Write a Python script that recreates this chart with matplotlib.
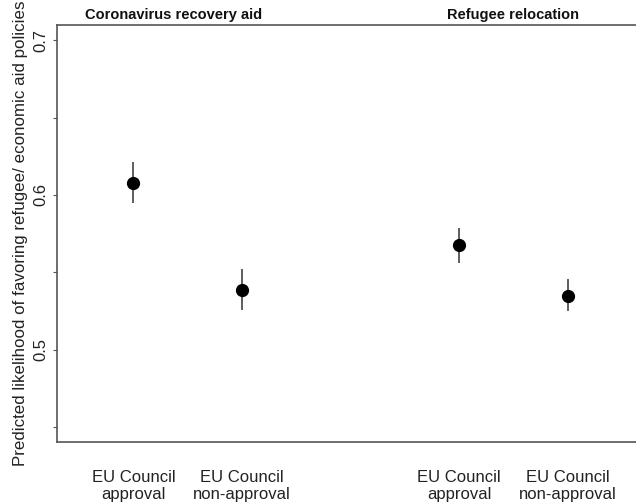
import numpy as np
import matplotlib.pyplot as plt

plt.rcParams['font.family'] = ['Liberation Sans', 'DejaVu Sans']

groups = ["Coronavirus recovery aid", "Refugee relocation"]
labels = ["EU Council\napproval", "EU Council\nnon-approval",
          "EU Council\napproval", "EU Council\nnon-approval"]
xpos = np.array([1, 2, 4, 5])
est = np.array([0.608, 0.539, 0.568, 0.535])
lower = np.array([0.595, 0.526, 0.556, 0.525])
upper = np.array([0.621, 0.552, 0.579, 0.546])

fig = plt.figure(figsize=(6.36, 5.04), dpi=100)
ax = fig.add_axes([57 / 636, 1 - 442 / 504, 1 - 57 / 636, (442 - 25) / 504])

ax.vlines(xpos, lower, upper, color="#333333", lw=1.1)
ax.plot(xpos, est, "o", color="black", ms=8.5)

ax.set_xlim(0.296, 5.63)
ax.set_ylim(0.4406, 0.7097)

ax.set_yticks([0.45, 0.5, 0.55, 0.6, 0.65, 0.7])
ax.set_yticklabels(["", "0.5", "", "0.6", "", "0.7"], rotation=90, va="center",
                   fontsize=12, color="#222222")
ax.tick_params(axis="y", length=3, width=0.8, color="#555555", pad=3)

ax.set_xticks(xpos)
ax.set_xticklabels(labels, fontsize=12, color="#222222", linespacing=1.2)
ax.tick_params(axis="x", length=0, pad=20)

ax.set_ylabel("Predicted likelihood of favoring refugee/ economic aid policies",
              fontsize=12.2, color="#222222", labelpad=4)

for s in ["right"]:
    ax.spines[s].set_visible(False)
for s in ["left", "top", "bottom"]:
    ax.spines[s].set_color("#555555")
    ax.spines[s].set_linewidth(1.2)

title_x = [1.37, 4.5]
for gx, g in zip(title_x, groups):
    ax.text(gx, 1.008, g, transform=ax.get_xaxis_transform(), ha="center",
            va="bottom", fontsize=10.5, fontweight="bold", color="#111111")

fig.savefig("out.png", dpi=100)
